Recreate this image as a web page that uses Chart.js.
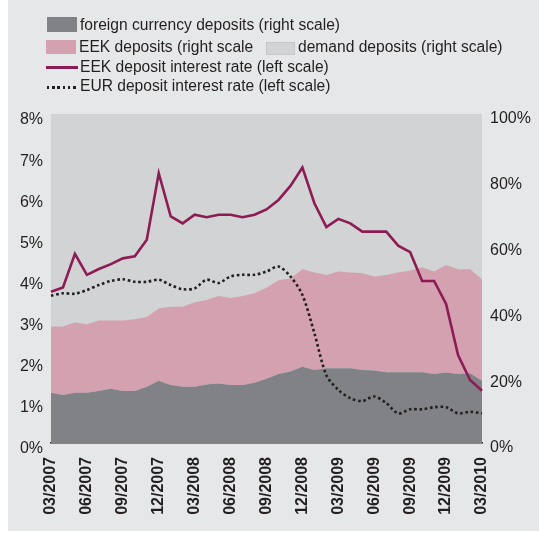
<!DOCTYPE html>
<html>
<head>
<meta charset="utf-8">
<script src="https://cdn.jsdelivr.net/npm/chart.js@4"></script>
<style>
  html, body { margin: 0; padding: 0; background: #fff; }
  body { width: 539px; height: 533px; position: relative; overflow: hidden;
         font-family: "Liberation Sans", Arial, Helvetica, sans-serif; color: #231f20; }
  #panel { position: absolute; left: 8px; top: 0; width: 531px; height: 531px; background: #e6e7e8; }
  #chart { position: absolute; left: 0; top: 0; }
  .key { position: absolute; font-size: 15.6px; line-height: 18px; white-space: nowrap; }
  .sw { position: absolute; }
</style>
</head>
<body>
<div id="panel">
  <canvas id="chart" width="531" height="531"></canvas>
</div>

<!-- legend -->
<div class="sw" style="left:47px;top:17px;width:30px;height:15px;background:#808285"></div>
<div class="key" style="left:80px;top:16px">foreign currency deposits (right scale)</div>
<div class="sw" style="left:46px;top:40px;width:30px;height:14px;background:#d4a1b0"></div>
<div class="key" style="left:79px;top:38px">EEK deposits (right scale</div>
<div class="sw" style="left:266px;top:42px;width:27px;height:11px;background:#d1d3d4;border:1px solid #c4c6c8"></div>
<div class="key" style="left:298px;top:38px">demand deposits (right scale)</div>
<div class="sw" style="left:46px;top:66px;width:32px;height:3px;background:#8c1c53"></div>
<div class="key" style="left:80px;top:58px">EEK deposit interest rate (left scale)</div>
<div class="sw" style="left:47px;top:86px;width:31px;height:2.5px;background:repeating-linear-gradient(to right,#231f20 0 2.5px,transparent 2.5px 5.2px)"></div>
<div class="key" style="left:80px;top:77px">EUR deposit interest rate (left scale)</div>

<script>
// months 03/2007 .. 03/2010
const months = [
  '03/2007','04/2007','05/2007','06/2007','07/2007','08/2007','09/2007','10/2007','11/2007','12/2007',
  '01/2008','02/2008','03/2008','04/2008','05/2008','06/2008','07/2008','08/2008','09/2008','10/2008',
  '11/2008','12/2008','01/2009','02/2009','03/2009','04/2009','05/2009','06/2009','07/2009','08/2009',
  '09/2009','10/2009','11/2009','12/2009','01/2010','02/2010','03/2010'
];

// deposit structure, % of total (right scale)
const foreignDeposits = [15.3,14.6,15.3,15.3,15.8,16.5,15.8,15.8,17.1,18.9,17.6,17.1,17.1,17.8,18.1,17.6,17.6,18.3,19.5,21.0,
  21.7,23.2,22.2,22.7,22.7,22.7,22.2,22.0,21.5,21.5,21.5,21.5,21.0,21.4,21.0,21.2,18.9];
const eekDeposits = [20.1,20.8,21.3,20.8,21.4,20.7,21.4,21.8,21.2,22.0,23.8,24.3,25.7,25.7,26.6,26.5,27.1,27.2,27.7,28.5,
  28.3,29.6,29.6,28.4,29.4,29.1,29.4,28.6,29.6,30.3,30.9,31.9,31.1,32.7,31.8,31.6,30.9];
const demandDeposits = [64.6,64.6,63.4,63.9,62.8,62.8,62.8,62.4,61.7,59.1,58.6,58.6,57.2,56.5,55.3,55.9,55.3,54.5,52.8,50.5,
  50.0,47.2,48.2,48.9,47.9,48.2,48.4,49.4,48.9,48.2,47.6,46.6,47.9,45.9,47.2,47.2,50.2];

// interest rates, % (left scale)
const eekRate = [3.68,3.78,4.60,4.09,4.23,4.35,4.49,4.54,4.94,6.56,5.51,5.34,5.55,5.49,5.55,5.55,5.49,5.55,5.68,5.91,
  6.25,6.70,5.83,5.25,5.45,5.34,5.14,5.14,5.14,4.80,4.64,3.94,3.94,3.38,2.14,1.53,1.27];
const eurRate = [3.58,3.64,3.63,3.72,3.84,3.94,3.98,3.92,3.92,3.97,3.84,3.74,3.76,3.97,3.89,4.05,4.09,4.09,4.17,4.29,
  4.05,3.60,2.67,1.65,1.29,1.09,1.02,1.13,0.97,0.72,0.82,0.82,0.87,0.87,0.72,0.76,0.72];

const leftTicks = [0, 1, 2, 3, 4, 5, 6, 7, 8];
const rightTicks = [0, 20, 40, 60, 80, 100];

const ink = '#231f20';
const fontFamily = '"Liberation Sans", Arial, Helvetica, sans-serif';

// grey fill behind the plot area
const plotBackground = {
  id: 'plotBackground',
  beforeDatasetsDraw(chart) {
    const { ctx, chartArea: a } = chart;
    ctx.save();
    ctx.fillStyle = '#d1d3d4';
    ctx.fillRect(a.left, a.top, a.right - a.left, a.bottom - a.top);
    ctx.restore();
  }
};

function area(label, data, color, fill) {
  return {
    label, data, yAxisID: 'y1', order: 1,
    backgroundColor: color, borderColor: color, borderWidth: 0,
    pointRadius: 0, tension: 0, fill
  };
}

new Chart(document.getElementById('chart'), {
  type: 'line',
  data: {
    labels: months,
    datasets: [
      area('foreign currency deposits (right scale)', foreignDeposits, '#808285', 'origin'),
      area('EEK deposits (right scale', eekDeposits, '#d4a1b0', '-1'),
      area('demand deposits (right scale)', demandDeposits, '#d1d3d4', '-1'),
      {
        label: 'EEK deposit interest rate (left scale)',
        data: eekRate, yAxisID: 'y', order: 0,
        borderColor: '#8c1c53', borderWidth: 2.6,
        pointRadius: 0, tension: 0, fill: false
      },
      {
        label: 'EUR deposit interest rate (left scale)',
        data: eurRate, yAxisID: 'y', order: 0,
        borderColor: ink, borderWidth: 2.6, borderDash: [2.6, 2.7],
        pointRadius: 0, tension: 0.3, fill: false
      }
    ]
  },
  options: {
    responsive: false,
    animation: false,
    layout: { padding: { top: 114, left: 0, right: 0, bottom: 0 } },
    plugins: {
      legend: { display: false },
      tooltip: { enabled: false }
    },
    scales: {
      x: {
        grid: { display: false, drawTicks: false },
        border: { display: true, color: ink, width: 1.5 },
        ticks: {
          autoSkip: false,
          maxRotation: 90,
          minRotation: 90,
          padding: 14,
          color: ink,
          font: { family: fontFamily, size: 16, weight: 'bold' },
          callback: (v, i) => (i % 3 === 0 ? months[i] : '')
        },
        afterFit: s => { s.height = 88; }
      },
      y: {
        position: 'left',
        min: 0, max: 8,
        stacked: false,
        grid: { display: false, drawTicks: false },
        border: { display: false },
        afterBuildTicks: s => { s.ticks = leftTicks.map(v => ({ value: v })); },
        ticks: {
          padding: 8,
          labelOffset: 6,
          color: ink,
          font: { family: fontFamily, size: 16 },
          callback: v => v + '%'
        },
        afterFit: s => { s.width = 43; }
      },
      y1: {
        position: 'right',
        min: 0, max: 100,
        stacked: true,
        grid: { display: false, drawTicks: false },
        border: { display: false },
        afterBuildTicks: s => { s.ticks = rightTicks.map(v => ({ value: v })); },
        ticks: {
          padding: 8,
          labelOffset: 5,
          color: ink,
          font: { family: fontFamily, size: 16 },
          callback: v => v + '%'
        },
        afterFit: s => { s.width = 57; }
      }
    }
  },
  plugins: [plotBackground]
});
</script>
</body>
</html>
